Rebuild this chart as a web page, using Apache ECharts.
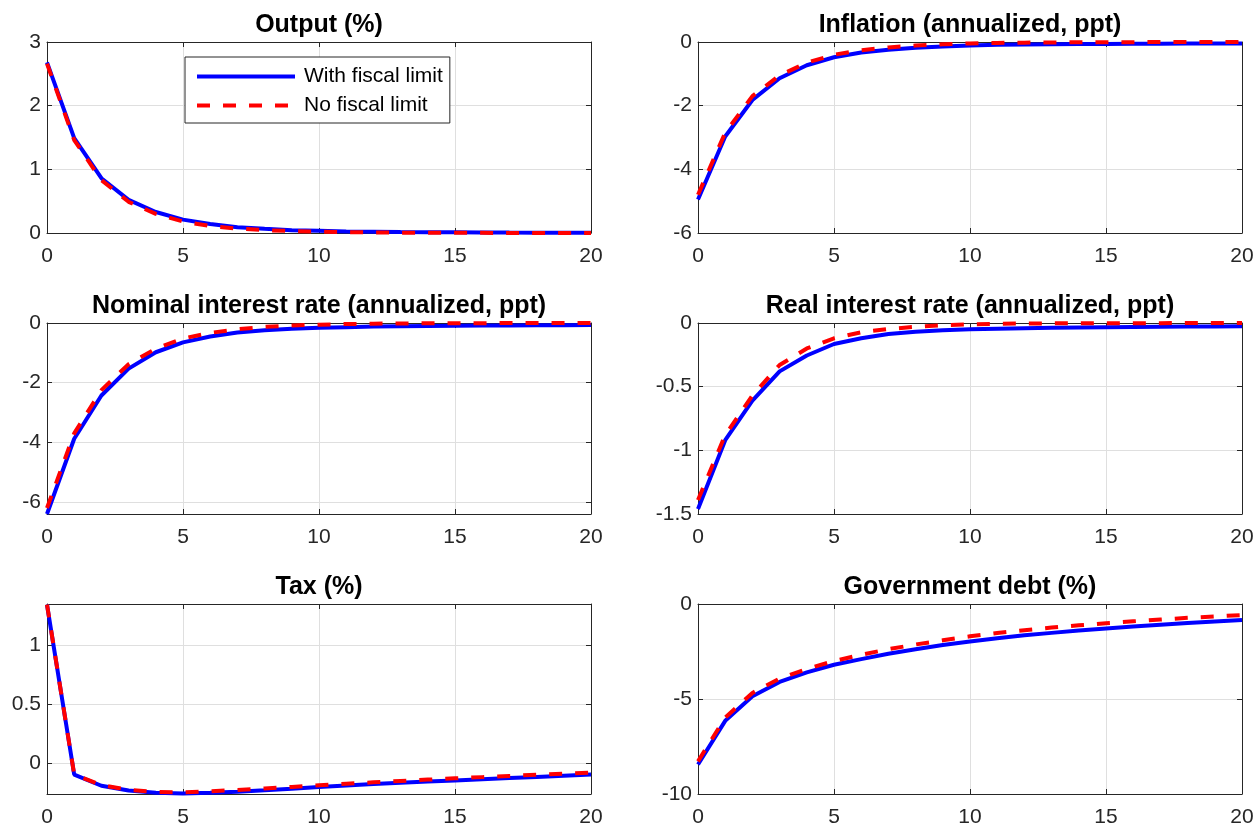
<!DOCTYPE html>
<html><head><meta charset="utf-8">
<script src="https://cdn.jsdelivr.net/npm/echarts@6/dist/echarts.min.js"></script>
<style>html,body{margin:0;padding:0;background:#fff}#c{width:1258px;height:828px}</style>
</head><body><div id="c"></div>
<script>
// ---------- data ----------
const periods = [0,1,2,3,4,5,6,7,8,9,10,11,12,13,14,15,16,17,18,19,20];
const seriesNames = ['With fiscal limit', 'No fiscal limit'];
const panelTitles = ['Output (%)', 'Inflation (annualized, ppt)', 'Nominal interest rate (annualized, ppt)',
  'Real interest rate (annualized, ppt)', 'Tax (%)', 'Government debt (%)'];

const outputWith = [2.68,1.49,0.86,0.52,0.33,0.21,0.14,0.09,0.065,0.045,0.035,0.025,0.02,0.015,0.012,0.01,0.008,0.006,0.005,0.004,0.003];
const outputNo   = [2.66,1.46,0.83,0.49,0.30,0.18,0.11,0.07,0.045,0.03,0.02,0.013,0.009,0.006,0.004,0.003,0.002,0.001,0.001,0,0];

const inflationWith = [-4.95,-2.97,-1.82,-1.14,-0.73,-0.48,-0.33,-0.24,-0.18,-0.14,-0.11,-0.09,-0.08,-0.07,-0.065,-0.06,-0.056,-0.052,-0.049,-0.047,-0.045];
const inflationNo   = [-4.80,-2.85,-1.70,-1.05,-0.65,-0.40,-0.26,-0.17,-0.11,-0.07,-0.045,-0.03,-0.02,-0.013,-0.009,-0.006,-0.004,-0.003,-0.002,-0.001,-0.001];

const nominalWith = [-6.40,-3.88,-2.43,-1.53,-0.98,-0.65,-0.45,-0.32,-0.24,-0.19,-0.16,-0.14,-0.12,-0.11,-0.10,-0.09,-0.085,-0.08,-0.075,-0.072,-0.07];
const nominalNo   = [-6.20,-3.70,-2.25,-1.38,-0.86,-0.52,-0.33,-0.21,-0.13,-0.085,-0.055,-0.035,-0.023,-0.015,-0.01,-0.007,-0.005,-0.003,-0.002,-0.001,-0.001];

const realWith = [-1.46,-0.92,-0.61,-0.38,-0.255,-0.165,-0.12,-0.086,-0.068,-0.057,-0.05,-0.045,-0.041,-0.038,-0.035,-0.033,-0.031,-0.029,-0.028,-0.027,-0.026];
const realNo   = [-1.39,-0.88,-0.57,-0.33,-0.20,-0.12,-0.073,-0.047,-0.03,-0.018,-0.01,-0.006,-0.004,-0.003,-0.002,-0.001,-0.001,-0.001,0,0,0];

const taxWith = [1.345,-0.095,-0.19,-0.23,-0.25,-0.255,-0.25,-0.24,-0.228,-0.215,-0.2,-0.188,-0.176,-0.165,-0.155,-0.145,-0.135,-0.125,-0.115,-0.105,-0.095];
const taxNo   = [1.345,-0.095,-0.185,-0.225,-0.243,-0.245,-0.237,-0.226,-0.213,-0.2,-0.186,-0.173,-0.161,-0.149,-0.138,-0.127,-0.117,-0.107,-0.097,-0.087,-0.078];

const debtWith = [-8.45,-6.15,-4.85,-4.10,-3.60,-3.20,-2.90,-2.62,-2.38,-2.16,-1.97,-1.80,-1.65,-1.52,-1.40,-1.29,-1.19,-1.09,-1.00,-0.92,-0.84];
const debtNo   = [-8.28,-5.98,-4.68,-3.93,-3.42,-3.00,-2.67,-2.38,-2.13,-1.91,-1.70,-1.53,-1.38,-1.24,-1.12,-1.01,-0.91,-0.82,-0.73,-0.65,-0.58];

const xTickValues = [0,5,10,15,20];
const yMins = [0, -6, -6.4, -1.5, -0.26, -10];
const yMaxs = [3, 0, 0, 0, 1.35, 0];
const yTickValues = [[0,1,2,3], [-6,-4,-2,0], [-6,-4,-2,0], [-1.5,-1,-0.5,0], [0,0.5,1], [-10,-5,0]];

const panelData = [
  [outputWith, outputNo], [inflationWith, inflationNo], [nominalWith, nominalNo],
  [realWith, realNo], [taxWith, taxNo], [debtWith, debtNo]
];

// ---------- layout / style ----------
const FONT = '"Liberation Sans", Arial, Helvetica, sans-serif';
const AX = '#262626';
const GRIDC = '#dfdfdf';
const colLeft = [47, 698];
const colWidth = 544;
const rowTop = [42, 323, 604];
const rowHeight = [191, 191, 192];
const titleCenterY = [25, 306, 587];

const grids = [], xAxes = [], yAxes = [], series = [], titles = [];
for (let i = 0; i < 6; i++) {
  const r = Math.floor(i / 2), c = i % 2;
  grids.push({ left: colLeft[c], top: rowTop[r], width: colWidth, height: rowHeight[r], containLabel: false });
  titles.push({
    text: panelTitles[i], left: colLeft[c] + colWidth / 2, top: titleCenterY[r] - 13, textAlign: 'center', padding: 0,
    textStyle: { fontFamily: FONT, fontSize: 25, fontWeight: 'bold', color: '#000', lineHeight: 26 }
  });
  const common = { type: 'value', gridIndex: i, animation: false };
  xAxes.push(Object.assign({}, common, {
    position: 'bottom', min: 0, max: 20,
    axisLine: { show: true, onZero: false, lineStyle: { color: AX, width: 1 } },
    axisTick: { show: true, inside: true, length: 5, lineStyle: { color: AX }, customValues: xTickValues },
    axisLabel: { show: true, margin: 13, color: AX, fontFamily: FONT, fontSize: 21, customValues: xTickValues },
    splitLine: { show: true, lineStyle: { color: GRIDC, width: 1 } }
  }));
  xAxes.push(Object.assign({}, common, {
    position: 'top', min: 0, max: 20,
    axisLine: { show: true, onZero: false, lineStyle: { color: AX, width: 1 } },
    axisTick: { show: true, inside: true, length: 5, lineStyle: { color: AX }, customValues: xTickValues },
    axisLabel: { show: false, customValues: xTickValues },
    splitLine: { show: false }
  }));
  yAxes.push(Object.assign({}, common, {
    position: 'left', min: yMins[i], max: yMaxs[i],
    axisLine: { show: true, onZero: false, lineStyle: { color: AX, width: 1 } },
    axisTick: { show: true, inside: true, length: 5, lineStyle: { color: AX }, customValues: yTickValues[i] },
    axisLabel: { show: true, margin: 6, color: AX, fontFamily: FONT, fontSize: 21, customValues: yTickValues[i] },
    splitLine: { show: true, lineStyle: { color: GRIDC, width: 1 } }
  }));
  yAxes.push(Object.assign({}, common, {
    position: 'right', min: yMins[i], max: yMaxs[i],
    axisLine: { show: true, onZero: false, lineStyle: { color: AX, width: 1 } },
    axisTick: { show: true, inside: true, length: 5, lineStyle: { color: AX }, customValues: yTickValues[i] },
    axisLabel: { show: false, customValues: yTickValues[i] },
    splitLine: { show: false }
  }));
  const [withArr, noArr] = panelData[i];
  series.push({
    name: seriesNames[0], type: 'line', xAxisIndex: 2 * i, yAxisIndex: 2 * i,
    data: periods.map((p, k) => [p, withArr[k]]), symbol: 'none', z: 2,
    lineStyle: { color: '#0000ff', width: 4 }, itemStyle: { color: '#0000ff' }
  });
  series.push({
    name: seriesNames[1], type: 'line', xAxisIndex: 2 * i, yAxisIndex: 2 * i,
    data: periods.map((p, k) => [p, noArr[k]]), symbol: 'none', z: 3,
    lineStyle: { color: '#ff0000', width: 4, type: [13, 13] }, itemStyle: { color: '#ff0000' }
  });
}

const chart = echarts.init(document.getElementById('c'), null, { renderer: 'canvas' });
chart.setOption({
  animation: false,
  backgroundColor: '#fff',
  title: titles,
  grid: grids,
  xAxis: xAxes,
  yAxis: yAxes,
  legend: {
    data: seriesNames, left: 185, top: 57, orient: 'vertical',
    backgroundColor: '#fff', borderColor: AX, borderWidth: 1,
    padding: [9, 7, 7, 10], itemGap: 8, itemWidth: 98, itemHeight: 20,
    itemStyle: { opacity: 0 },
    lineStyle: { width: 4 },
    textStyle: { fontFamily: FONT, fontSize: 21, color: '#000', padding: [0, 0, 0, 4] },
    selectedMode: false
  },
  series: series
});
</script></body></html>
